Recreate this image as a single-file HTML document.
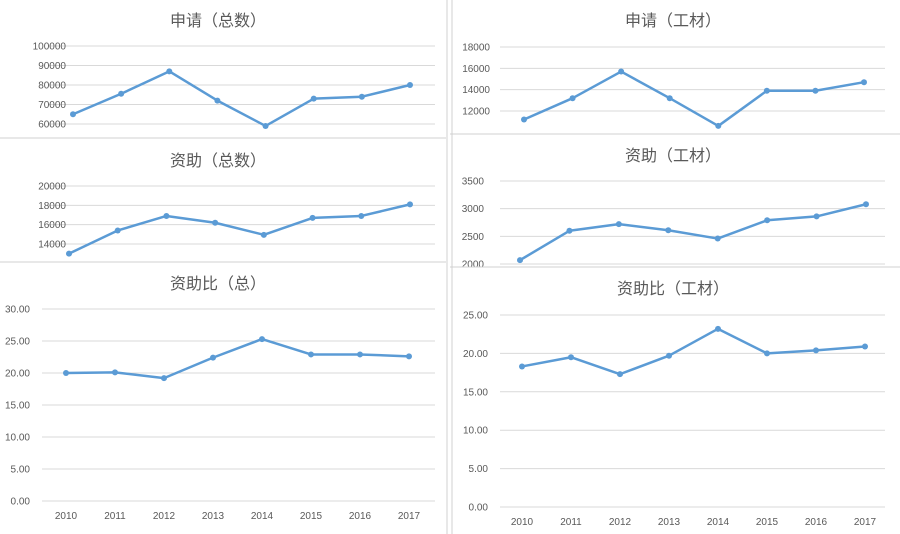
<!DOCTYPE html>
<html><head><meta charset="utf-8"><style>
body{margin:0;background:#fff;}
svg{display:block;font-family:"Liberation Sans","Noto Sans CJK SC",sans-serif;}
</style></head><body>
<svg id="c" width="900" height="534"></svg>
<script>
const years=["2010","2011","2012","2013","2014","2015","2016","2017"];
const appTotal=[65000,75500,87000,72000,59000,73000,74000,80000];
const grantTotal=[13000,15400,16900,16200,14950,16700,16900,18100];
const ratioTotal=[20.0,20.1,19.2,22.4,25.3,22.9,22.9,22.6];
const appEng=[11200,13200,15700,13200,10600,13900,13900,14700];
const grantEng=[2070,2600,2720,2610,2460,2790,2860,3080];
const ratioEng=[18.3,19.5,17.3,19.7,23.2,20.0,20.4,20.9];
const ticksAppTotal=[60000,70000,80000,90000,100000];
const ticksGrantTotal=[14000,16000,18000,20000];
const ticksRatio=[0,5,10,15,20,25,30];
const ticksRatioEng=[0,5,10,15,20,25];
const ticksAppEng=[12000,14000,16000,18000];
const ticksGrantEng=[2000,2500,3000,3500];

const NS="http://www.w3.org/2000/svg";
const svg=document.getElementById('c');
function mk(t,a,p){const e=document.createElementNS(NS,t);for(const k in a)e.setAttribute(k,a[k]);(p||svg).appendChild(e);return e;}

function chart(o){
  const g=mk('g',{});
  
  
  const y=v=>o.y0+(v-o.v0)*(o.y1-o.y0)/(o.v1-o.v0);
  const x=i=>o.xa+i*(o.xb-o.xa)/7;
  const t=mk('text',{x:o.tx,y:o.ty,'text-anchor':'middle','font-size':16,fill:'#595959'},g);
  t.textContent=o.title;
  
  
  o.ticks.forEach(v=>{
    const yy=y(v);
    const l=mk('line',{x1:o.gx1,x2:o.gx2,y1:yy,y2:yy,stroke:'#d9d9d9','stroke-width':1},g);
    
    
    const tt=mk('text',{x:o.lx,y:yy+3.5,'text-anchor':'end','font-size':10,fill:'#595959'},g);
    tt.textContent=o.dec?v.toFixed(2):String(v);
    
    
  });
  if(o.xl){years.forEach((yr,i)=>{
    const tt=mk('text',{x:x(i),y:o.xl,'text-anchor':'middle','font-size':10,fill:'#595959'},g);
    tt.textContent=yr;
    
    
  });}
  const pts=o.data.map((v,i)=>x(i)+','+y(v)).join(' ');
  const pl=mk('polyline',{points:pts,fill:'none',stroke:'#5b9bd5','stroke-width':2.5,'stroke-linejoin':'round'},g);
  
  
  o.data.forEach((v,i)=>{
    const c=mk('circle',{cx:x(i),cy:y(v),r:3,fill:'#5b9bd5'},g);
    
    
  });
}
chart({name:'chart-applications-total',title:'申请（总数）',tx:218,ty:26,v0:60000,v1:100000,y0:124,y1:46,ticks:ticksAppTotal,lx:66,gx1:48,gx2:435,xa:73,xb:410,data:appTotal});
chart({name:'chart-grants-total',title:'资助（总数）',tx:218,ty:166,v0:14000,v1:20000,y0:244,y1:186,ticks:ticksGrantTotal,lx:66,gx1:48,gx2:435,xa:69,xb:410,data:grantTotal});
chart({name:'chart-ratio-total',title:'资助比（总）',tx:218,ty:289,v0:0,v1:30,y0:501,y1:309,ticks:ticksRatio,lx:30,gx1:42,gx2:435,xa:66,xb:409,data:ratioTotal,dec:true,xl:519});
chart({name:'chart-applications-eng',title:'申请（工材）',tx:673,ty:26,v0:12000,v1:18000,y0:111,y1:47,ticks:ticksAppEng,lx:490,gx1:500,gx2:885,xa:524,xb:864,data:appEng});
chart({name:'chart-grants-eng',title:'资助（工材）',tx:673,ty:161,v0:2000,v1:3500,y0:264,y1:181,ticks:ticksGrantEng,lx:484,gx1:500,gx2:885,xa:520,xb:866,data:grantEng});
chart({name:'chart-ratio-eng',title:'资助比（工材）',tx:673,ty:294,v0:0,v1:25,y0:507,y1:315,ticks:ticksRatioEng,lx:488,gx1:500,gx2:885,xa:522,xb:865,data:ratioEng,dec:true,xl:525});
// panel borders
[[0,138,446,138],[0,262,446,262],[450,134,900,134],[450,267,900,267],[447,0,447,534],[452,0,452,534]].forEach(a=>{
  const l=mk('line',{x1:a[0],y1:a[1],x2:a[2],y2:a[3],stroke:'#d0d0d0','stroke-width':1});
  
  
});
// cover clipped bits
</script>
</body></html>
